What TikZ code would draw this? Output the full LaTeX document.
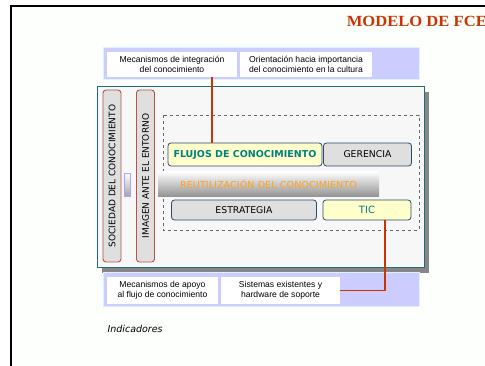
\documentclass[tikz,border=0pt]{standalone}
\usepackage{fontspec}
\setmainfont{DejaVu Sans}
\newfontfamily\arialfont{Liberation Sans}
\newfontfamily\titlefont{Liberation Serif}
\usetikzlibrary{arrows.meta}

\definecolor{lavband}{HTML}{CCCCFF}
\definecolor{bandline}{HTML}{DDF2FF}
\definecolor{tealline}{HTML}{1F6F6F}
\definecolor{tealtext}{HTML}{007F7F}
\definecolor{brownline}{HTML}{B25545}
\definecolor{boxline}{HTML}{2A4A6A}
\definecolor{paleyellow}{HTML}{FFFFCC}
\definecolor{orangetext}{HTML}{FFA020}
\definecolor{redline}{HTML}{CC3300}
\definecolor{titlered}{HTML}{CC3300}

\tikzset{
  band/.style={fill=lavband, draw=bandline, line width=1pt},
  notebox/.style={fill=white, inner sep=0pt, align=center, font=\arialfont\fontsize{8.6}{10.5}\selectfont},
  sidebox/.style={draw=brownline, fill=gray!25, rounded corners=3pt, line width=0.9pt, inner sep=0pt, rotate=90, font=\fontsize{9}{11}\selectfont},
  keybox/.style={draw=boxline, rounded corners=3pt, line width=0.8pt, inner sep=0pt, font=\fontsize{9.3}{11}\selectfont},
  link/.style={draw=redline, line width=1.6pt}
}

\begin{document}
\begin{tikzpicture}[x=1pt, y=-1pt]
    \useasboundingbox (0,0) rectangle (485,366);
    \fill[white] (0,0) rectangle (485,366);
    \fill[green!1!white] (11,6) rectangle (485,366);
    % frame
    \draw [line width=2pt] (11,366) -- (11,6) -- (485,6);
    \node [anchor=base west, text=titlered, xscale=1.07, font=\titlefont\bfseries\fontsize{15.5}{17}\selectfont] (title) at (343,27) {MODELO DE FCE};

    % top band
    \draw [band] (103,48) rectangle (419,80);
    \node [notebox, minimum width=130, minimum height=25] (mecA) at (172,64.5) {Mecanismos de integración\\del conocimiento};
    \node [notebox, minimum width=132, minimum height=25] (ori) at (306,64.5) {Orientación hacia importancia\\del conocimiento en la cultura};

    % main panel
    \fill [gray!95] (102,92) rectangle (429,273);
    \draw [tealline, fill=gray!6, line width=1pt] (97,87) rectangle (424,268);
    \node [sidebox, minimum width=172, minimum height=18] (soc) at (112,176) {SOCIEDAD DEL CONOCIMIENTO};
    \node [sidebox, minimum width=172, minimum height=18] (img) at (145.5,176) {IMAGEN ANTE EL ENTORNO};
    \node [draw=blue!35, top color=white, bottom color=gray!70, line width=0.8pt, minimum width=6, minimum height=23, inner sep=0pt] (bar) at (127.5,184.5) {};

    \draw [gray!80!black, dashed, line width=0.8pt] (163,115) rectangle (419,230);
    \node [keybox, fill=paleyellow, text=tealtext, minimum width=154, minimum height=23, font=\bfseries\fontsize{9.5}{11}\selectfont] (flujos) at (245,154.5) {FLUJOS DE CONOCIMIENTO};
    \node [keybox, fill=gray!25, minimum width=88, minimum height=23] (ger) at (367.5,154.5) {GERENCIA};
    \node [top color=white, bottom color=gray!85, minimum width=221, minimum height=25, inner sep=0pt, text=orangetext, font=\fontsize{9.7}{11}\selectfont] (reut) at (268.5,184) {REUTILIZACIÓN DEL CONOCIMIENTO};
    \node [keybox, fill=gray!25, minimum width=145, minimum height=20] (est) at (244,210) {ESTRATEGIA};
    \node [keybox, fill=paleyellow, text=tealtext, minimum width=88, minimum height=20, font=\fontsize{10}{12}\selectfont] (tic) at (367,210) {TIC};

    % bottom band
    \draw [band] (103,273) rectangle (419,307);
    \node [notebox, minimum width=111, minimum height=27] (mecB) at (162.5,290.5) {Mecanismos de apoyo\\al flujo de conocimiento};
    \node [notebox, minimum width=119, minimum height=27] (sis) at (280.5,290.5) {Sistemas existentes y\\hardware de soporte};

    % links
    \coordinate (topend) at (212,77);
    \coordinate (ticend) at (385,220);
    \draw [link] (topend) -- (topend |- flujos.north);
    \draw [link] (ticend) |- (sis.east);

    \node [anchor=base west, font=\itshape\fontsize{9.5}{11}\selectfont] (ind) at (104,332) {Indicadores};
\end{tikzpicture}
\end{document}
